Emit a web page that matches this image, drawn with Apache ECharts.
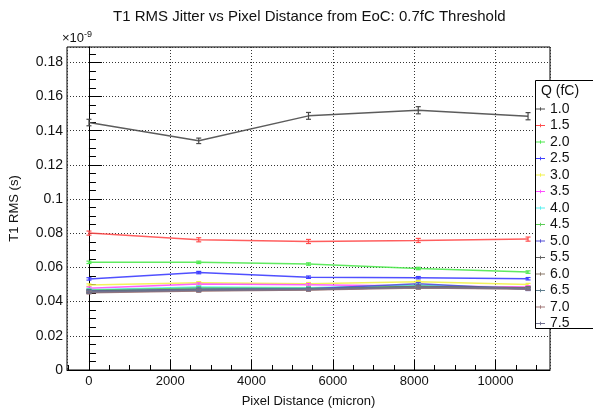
<!DOCTYPE html>
<html>
<head>
<meta charset="utf-8">
<script src="https://cdn.jsdelivr.net/npm/echarts@6/dist/echarts.min.js"></script>
<style>
  html, body { margin: 0; padding: 0; background: #fff; }
  #main { width: 593px; height: 413px; }
</style>
</head>
<body>
<div id="main"></div>
<script>
// pixel distance from EoC (micron)
var distance = [0, 2700, 5400, 8100, 10800];
// charge labels (fC)
var charges = ['1.0', '1.5', '2.0', '2.5', '3.0', '3.5', '4.0', '4.5', '5.0', '5.5', '6.0', '6.5', '7.0', '7.5'];

// T1 RMS in units of 1e-9 s
var rms10 = [0.1448, 0.1341, 0.1487, 0.1520, 0.1485];
var rms15 = [0.0801, 0.0762, 0.0752, 0.0758, 0.0766];
var rms20 = [0.0630, 0.0630, 0.0620, 0.0594, 0.0573];
var rms25 = [0.0533, 0.0570, 0.0543, 0.0540, 0.0534];
var rms30 = [0.0497, 0.0510, 0.0505, 0.0517, 0.0500];
var rms35 = [0.0479, 0.0503, 0.0499, 0.0492, 0.0486];
var rms40 = [0.0470, 0.0486, 0.0481, 0.0496, 0.0479];
var rms45 = [0.0466, 0.0480, 0.0478, 0.0490, 0.0476];
var rms50 = [0.0462, 0.0473, 0.0476, 0.0505, 0.0472];
var rms55 = [0.0461, 0.0469, 0.0473, 0.0488, 0.0481];
var rms60 = [0.0455, 0.0465, 0.0470, 0.0485, 0.0478];
var rms65 = [0.0458, 0.0470, 0.0474, 0.0482, 0.0476];
var rms70 = [0.0452, 0.0462, 0.0468, 0.0480, 0.0474];
var rms75 = [0.0456, 0.0466, 0.0471, 0.0484, 0.0477];

// errors (same units)
var err10 = [0.0019, 0.0016, 0.0020, 0.0021, 0.0021];
var err15 = [0.0012, 0.0012, 0.0012, 0.0012, 0.0012];
var errLow = [0.0007, 0.0007, 0.0007, 0.0007, 0.0007];

var allRms = [rms10, rms15, rms20, rms25, rms30, rms35, rms40, rms45, rms50, rms55, rms60, rms65, rms70, rms75];
var allErr = [err10, err15, errLow, errLow, errLow, errLow, errLow, errLow, errLow, errLow, errLow, errLow, errLow, errLow];

var colors = ['#4a4a4a', '#ff4d4d', '#4fe84f', '#3d3dff', '#f2f24a', '#ff4dff', '#55f0f0', '#5ccc58',
    '#5450d6', '#606060', '#8a7868', '#5d7c8c', '#a07676', '#70708e'];

var xMin = -540, xMax = 11340;
var yMin = 0, yMax = 0.189;

var myChart = echarts.init(document.getElementById('main'), null, { renderer: 'canvas' });

// minor tick positions
var xMinor = [];
for (var v = -500; v <= 11000; v += 500) {
    if (v % 2000 !== 0) xMinor.push(v);
}
var yMinor = [];
for (var k = 1; k <= 37; k++) {
    if (k % 4 !== 0) yMinor.push(+(k * 0.005).toFixed(3));
}

function errorBar(color) {
    return function (params, api) {
        var x = api.value(0), y = api.value(1), e = api.value(2);
        var lo = api.coord([x, y - e]);
        var hi = api.coord([x, y + e]);
        var w = 2.5;
        var st = { stroke: color, lineWidth: 1.2 };
        return {
            type: 'group',
            children: [
                { type: 'line', shape: { x1: lo[0], y1: lo[1], x2: hi[0], y2: hi[1] }, style: st },
                { type: 'line', shape: { x1: lo[0] - w, y1: lo[1], x2: lo[0] + w, y2: lo[1] }, style: st },
                { type: 'line', shape: { x1: hi[0] - w, y1: hi[1], x2: hi[0] + w, y2: hi[1] }, style: st }
            ]
        };
    };
}

var series = [];
charges.forEach(function (q, i) {
    series.push({
        name: q,
        type: 'line',
        symbol: 'none',
        data: distance.map(function (d, j) { return [d, allRms[i][j]]; }),
        lineStyle: { color: colors[i], width: 1.5, opacity: 0.9 },
        itemStyle: { color: colors[i] },
        z: 2 + i * 0.01,
        animation: false
    });
});
charges.forEach(function (q, i) {
    series.push({
        type: 'custom',
        renderItem: errorBar(colors[i]),
        data: distance.map(function (d, j) { return [d, allRms[i][j], allErr[i][j]]; }),
        z: 3,
        silent: true,
        animation: false
    });
});

var option = {
    backgroundColor: '#fff',
    animation: false,
    textStyle: { fontFamily: 'Liberation Sans, Arial, sans-serif' },
    title: {
        text: 'T1 RMS Jitter vs Pixel Distance from EoC: 0.7fC Threshold',
        left: 113,
        top: 9,
        padding: 0,
        textStyle: { fontSize: 15, fontWeight: 'normal', color: '#111' }
    },
    grid: {
        left: 67,
        right: 43,
        top: 47,
        bottom: 42,
        show: true,
        borderColor: '#000',
        borderWidth: 1,
        backgroundColor: 'transparent'
    },
    legend: {
        data: charges,
        orient: 'vertical',
        left: 536,
        top: 102,
        padding: 0,
        itemWidth: 9,
        itemHeight: 8,
        itemGap: 2.5,
        icon: 'path://M0 3.5H10V4.5H0Z M4.5 2H5.5V6H4.5Z',
        textStyle: { fontSize: 14, color: '#111', lineHeight: 14 },
        z: 10
    },
    graphic: [
        {
            type: 'rect',
            shape: { x: 535.5, y: 80.5, width: 80, height: 248 },
            style: { fill: '#fff', stroke: '#000', lineWidth: 1 },
            z: 8
        },
        {
            type: 'text',
            x: 541,
            y: 84,
            style: { text: 'Q (fC)', fontSize: 14, fill: '#111', fontFamily: 'Liberation Sans, Arial, sans-serif' },
            z: 9
        },
        {
            type: 'text',
            x: 62,
            y: 30,
            style: {
                text: '×10{sup|-9}',
                fontSize: 13,
                fill: '#111',
                fontFamily: 'Liberation Sans, Arial, sans-serif',
                rich: { sup: { fontSize: 9, verticalAlign: 'top', padding: [0, 0, 8, 0] } }
            },
            z: 9
        }
    ],
    xAxis: [
        {
            type: 'value',
            min: xMin,
            max: xMax,
            position: 'bottom',
            name: 'Pixel Distance (micron)',
            nameLocation: 'middle',
            nameGap: 25,
            nameTextStyle: { fontSize: 13, color: '#111' },
            axisLine: { lineStyle: { color: '#000', width: 1 } },
            axisTick: { inside: true, length: 10, lineStyle: { color: '#000' } },
            axisLabel: {
                fontSize: 13, color: '#111', margin: 5, showMinLabel: false, showMaxLabel: false,
                formatter: function (val) { return String(val); }
            },
            splitLine: { show: true, lineStyle: { color: '#333', type: [1, 2], width: 1 } }
        },
        {
            type: 'value',
            min: xMin,
            max: xMax,
            position: 'bottom',
            axisLine: { show: false },
            axisLabel: { show: false },
            splitLine: { show: false },
            axisTick: { inside: true, length: 5, customValues: xMinor, lineStyle: { color: '#000' } }
        }
    ],
    yAxis: [
        {
            type: 'value',
            min: yMin,
            max: yMax,
            interval: 0.02,
            position: 'left',
            name: 'T1 RMS (s)',
            nameLocation: 'middle',
            nameGap: 46,
            nameTextStyle: { fontSize: 13, color: '#111' },
            axisLine: { show: true, lineStyle: { color: '#000', width: 1 } },
            axisTick: { show: true, inside: true, length: 13, lineStyle: { color: '#000' } },
            axisLabel: { fontSize: 14, color: '#111', margin: 4, showMaxLabel: false },
            splitLine: { show: true, lineStyle: { color: '#333', type: [1, 2], width: 1 } }
        },
        {
            type: 'value',
            min: yMin,
            max: yMax,
            position: 'left',
            axisLine: { show: false },
            axisLabel: { show: false },
            splitLine: { show: false },
            axisTick: { show: true, inside: true, length: 7, customValues: yMinor, lineStyle: { color: '#000' } }
        }
    ],
    series: series
};
myChart.setOption(option);
</script>
</body>
</html>
